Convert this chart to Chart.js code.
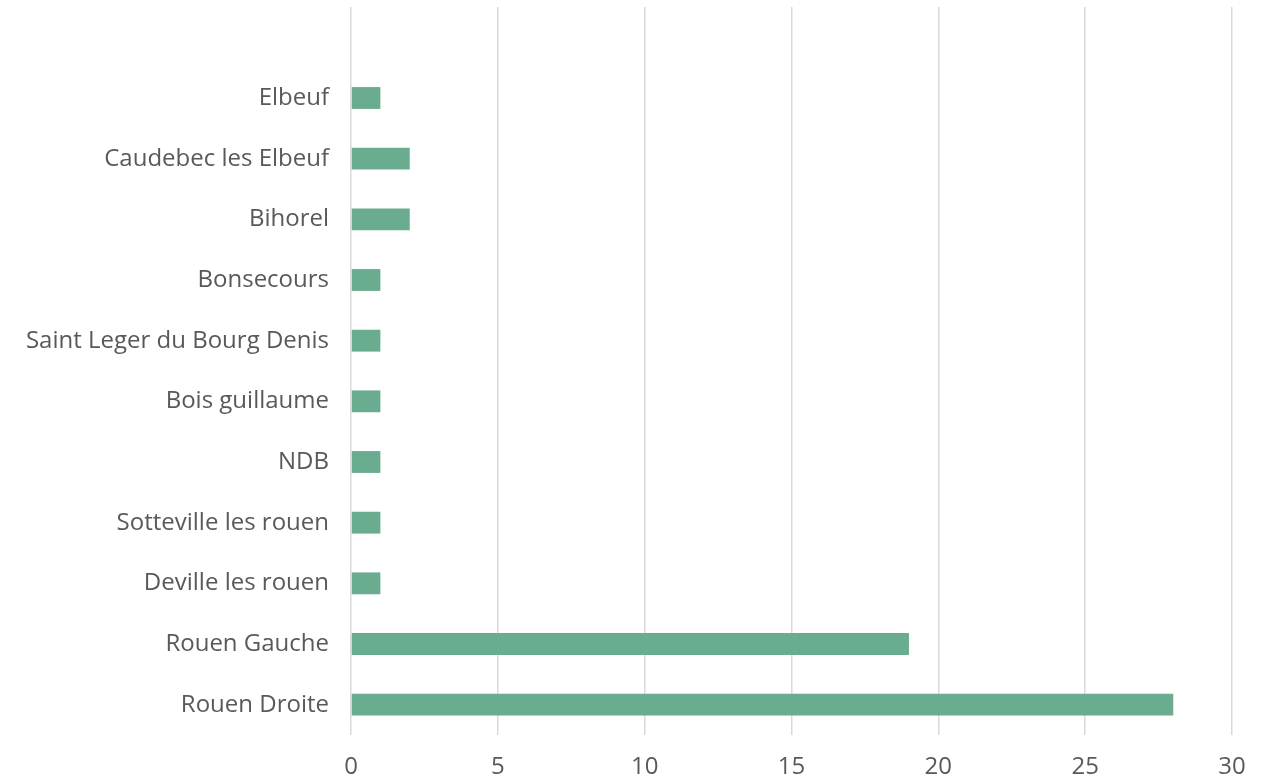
<!DOCTYPE html>
<html lang="en">
<head>
    <meta charset="UTF-8">
    <title>Communes</title>
    <script src="https://cdn.jsdelivr.net/npm/chart.js"></script>
    <style>
        html, body { margin: 0; padding: 0; background: #fff; }
        #wrap { width: 1266px; height: 781px; }
    </style>
</head>
<body>
    <div id="wrap"><canvas id="chart"></canvas></div>
    <script>
        // top row is left blank, like the source chart
        const communes = ['', 'Elbeuf', 'Caudebec les Elbeuf', 'Bihorel', 'Bonsecours',
            'Saint Leger du Bourg Denis', 'Bois guillaume', 'NDB', 'Sotteville les rouen',
            'Deville les rouen', 'Rouen Gauche', 'Rouen Droite'];
        const counts = [null, 1, 2, 2, 1, 1, 1, 1, 1, 1, 19, 28];
        const xTicks = [0, 5, 10, 15, 20, 25, 30];

        const font = "'Open Sans', 'DejaVu Sans', sans-serif";

        new Chart(document.getElementById('chart'), {
            type: 'bar',
            data: {
                labels: communes,
                datasets: [{
                    data: counts,
                    backgroundColor: '#69ac8f',
                    categoryPercentage: 1,
                    barPercentage: 0.36
                }]
            },
            options: {
                indexAxis: 'y',
                responsive: true,
                maintainAspectRatio: false,
                animation: false,
                layout: { padding: { top: 7, right: 34 } },
                plugins: { legend: { display: false }, tooltip: { enabled: false } },
                scales: {
                    x: {
                        min: 0,
                        max: 30,
                        afterBuildTicks: (s) => { s.ticks = xTicks.map(v => ({ value: v })); },
                        afterFit: (s) => { s.height = 46; s.paddingLeft = 0; s.paddingRight = 0; },
                        grid: { color: '#d9d9d9', lineWidth: 1.5, drawTicks: false },
                        border: { display: false },
                        ticks: { color: '#595959', padding: 18, font: { family: font, size: 24 } }
                    },
                    y: {
                        afterFit: (s) => { s.width = 351; s.paddingTop = 0; s.paddingBottom = 0; },
                        grid: { display: false, drawTicks: false },
                        border: { display: false },
                        ticks: { color: '#595959', padding: 22, font: { family: font, size: 24 } }
                    }
                }
            }
        });
    </script>
</body>
</html>
